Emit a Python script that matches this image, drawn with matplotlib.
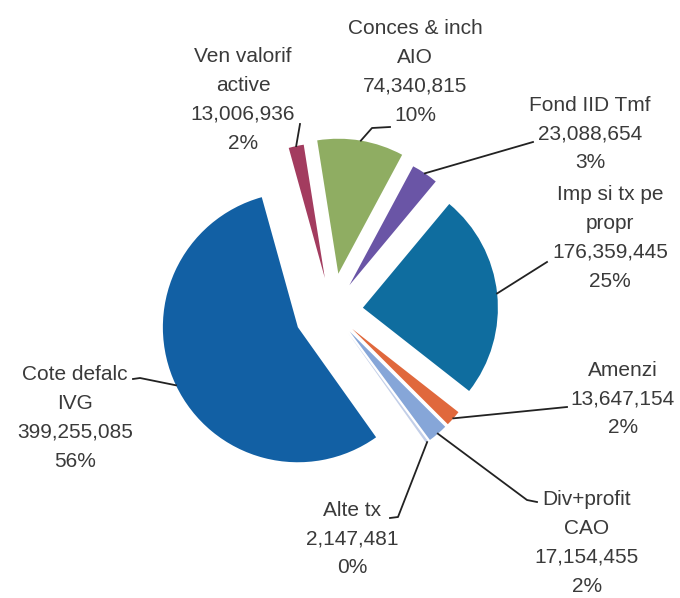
import numpy as np
import matplotlib.pyplot as plt

# slices in clockwise order from the top
names = ["Conces & inch\nAIO", "Fond IID Tmf", "Imp si tx pe\npropr", "Amenzi",
         "Div+profit\nCAO", "Alte tx", "Cote defalc\nIVG", "Ven valorif\nactive"]
values = [74340815, 23088654, 176359445, 13647154, 17154455, 2147481, 399255085, 13006936]
pcts = ["10%", "3%", "25%", "2%", "2%", "0%", "56%", "2%"]

colors = ["#8fad62", "#6a55a6", "#0f6d9f", "#e0683c", "#86a6d8", "#c3cfe8", "#1260a4", "#a33c5f"]
explode = [0.28, 0.23, 0.23, 0.2, 0.2, 0.2, 0.28, 0.25]

# label layout in pixels: text centre, then leader line elbow points
label_pos = [(415, 72), (590, 134), (610, 238), (623, 399),
             (587, 543), (352, 539), (75, 418), (243, 100)]
elbows = [[(372, 128), (390, 127)], [(533, 142)], [(547, 262)], [(567, 407)],
          [(527, 500), (537, 502)], [(398, 517), (390, 518)], [(140, 378), (133, 379)],
          [(300, 124)]]

W, H = 680, 598
cx, cy, R = 332, 311, 135

fig = plt.figure(figsize=(W / 100, H / 100), dpi=100)
ax = fig.add_axes([0, 0, 1, 1])

def px(p):
    return ((p[0] - cx) / R, (cy - p[1]) / R)

wedges, _ = ax.pie(values, colors=colors, explode=explode, startangle=99,
                   counterclock=False, radius=1, center=(0, 0), frame=True,
                   wedgeprops=dict(linewidth=0))
ax.set_xlim(-cx / R, (W - cx) / R)
ax.set_ylim(-(H - cy) / R, cy / R)
ax.set_aspect("equal")
ax.axis("off")

for i, w in enumerate(wedges):
    th = np.deg2rad((w.theta1 + w.theta2) / 2)
    ax0 = w.center[0] + w.r * np.cos(th)
    ay0 = w.center[1] + w.r * np.sin(th)
    pts = [(ax0, ay0)] + [px(p) for p in elbows[i]]
    xs, ys = zip(*pts)
    ax.plot(xs, ys, color="#222222", lw=1.3)
    tx, ty = px(label_pos[i])
    txt = names[i] + "\n" + f"{values[i]:,}" + "\n" + pcts[i]
    ax.text(tx, ty, txt, ha="center", va="center", multialignment="center",
            fontsize=15, family="Liberation Sans", color="#3a3a3a", linespacing=1.65)

fig.savefig("out.png", dpi=100, facecolor="white")
